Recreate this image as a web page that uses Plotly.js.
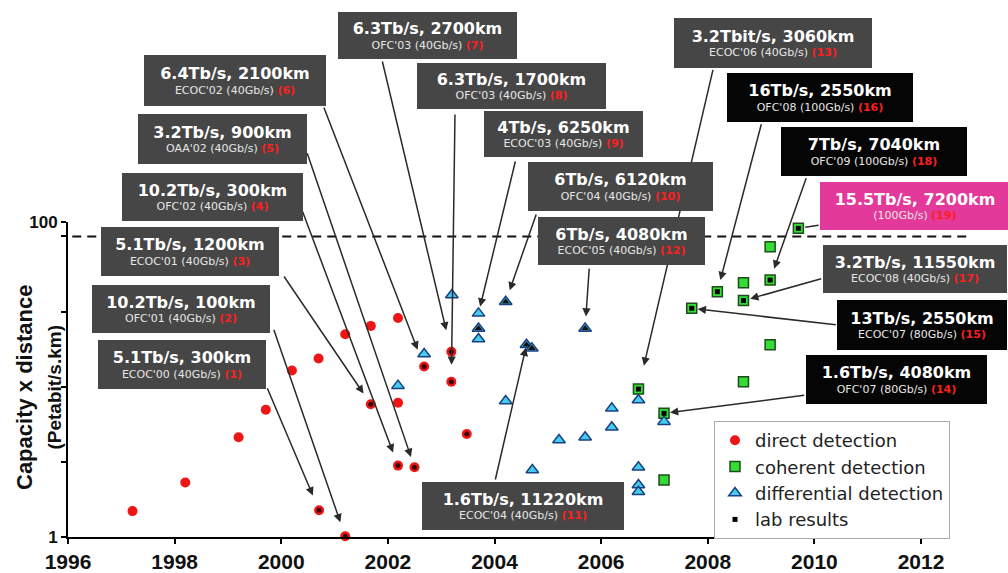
<!DOCTYPE html>
<html><head><meta charset="utf-8">
<script src="https://cdn.plot.ly/plotly-3.0.1.min.js"></script>
<style>html,body{margin:0;padding:0;background:#fff}#chart{width:1008px;height:573px}</style>
</head><body><div id="chart"></div>
<script>
// ---- data (year, capacity x distance in Petabit/s.km, lab result flag) ----
const directYear  = [1997.21,1998.20,1999.20,1999.71,2000.20,2000.70,2001.20,2001.68,2002.19,2001.68,2002.19,2002.68,2003.19,2003.19,2003.48,2002.19,2002.50,2000.71,2001.20];
const directValue = [1.46,2.22,4.30,6.43,11.4,13.6,19.4,21.9,24.6,6.96,7.12,12.1,15.0,9.68,4.51,2.84,2.77,1.48,1.01];
const directLab   = [0,0,0,0,0,0,0,0,0,1,0,1,1,1,1,1,1,1,1];

const coherentYear  = [2006.70,2007.70,2008.18,2008.67,2008.67,2009.17,2009.17,2009.70,2009.17,2008.67,2007.18,2007.18];
const coherentValue = [8.7,28.3,36.1,41.2,31.7,42.8,69.7,91.2,16.6,9.68,6.10,2.30];
const coherentLab   = [1,1,1,0,1,1,0,1,0,0,1,0];

const diffYear  = [2003.20,2003.70,2003.70,2003.70,2004.21,2002.68,2002.19,2004.60,2004.70,2004.21,2004.71,2005.21,2005.70,2005.70,2006.20,2006.20,2006.70,2006.70,2006.70,2006.70,2007.18];
const diffValue = [34.4,26.3,21.1,18.1,31.2,14.5,9.14,16.6,15.8,7.3,2.66,4.13,4.30,21.1,6.56,4.97,7.41,2.77,2.14,1.94,5.40];
const diffLab   = [0,0,1,0,1,0,0,1,1,0,0,0,0,1,0,0,0,0,0,0,0];

const seriesNames = ['direct detection','coherent detection','differential detection','lab results'];
const xTickYears = [1996,1998,2000,2002,2004,2006,2008,2010,2012];
const yTickValues = [1,3,9,27,81,100];
const yTickText = ['1','','','','','100'];
const referenceLine = 81;
const yTitle = ['Capacity x distance','(Petabit/s.km)'];

// record labels
const boxTitle = ['5.1Tb/s, 300km','10.2Tb/s, 100km','5.1Tb/s, 1200km','10.2Tb/s, 300km','3.2Tb/s, 900km','6.4Tb/s, 2100km',
  '6.3Tb/s, 2700km','6.3Tb/s, 1700km','4Tb/s, 6250km','6Tb/s, 6120km','6Tb/s, 4080km','1.6Tb/s, 11220km',
  '3.2Tbit/s, 3060km','16Tb/s, 2550km','7Tb/s, 7040km','15.5Tb/s, 7200km','3.2Tb/s, 11550km','13Tb/s, 2550km','1.6Tb/s, 4080km'];
const boxSub = ["ECOC'00 (40Gb/s)","OFC'01 (40Gb/s)","ECOC'01 (40Gb/s)","OFC'02 (40Gb/s)","OAA'02 (40Gb/s)","ECOC'02 (40Gb/s)",
  "OFC'03 (40Gb/s)","OFC'03 (40Gb/s)","ECOC'03 (40Gb/s)","OFC'04 (40Gb/s)","ECOC'05 (40Gb/s)","ECOC'04 (40Gb/s)",
  "ECOC'06 (40Gb/s)","OFC'08 (100Gb/s)","OFC'09 (100Gb/s)","(100Gb/s)","ECOC'08 (40Gb/s)","ECOC'07 (80Gb/s)","OFC'07 (80Gb/s)"];
const boxRef = [1,2,3,4,5,6,7,8,9,10,12,11,13,16,18,19,17,15,14];
const boxKind = ['g','g','g','g','g','g','g','g','g','g','g','g','g','k','k','p','g','k','k'];
// which point each label's arrow refers to: [series, index]
const boxTarget = [['d',17],['d',18],['d',9],['d',15],['d',16],['d',11],['d',12],['d',13],['f',1],['f',4],['f',13],['f',7],
  ['c',0],['c',2],['c',5],['c',7],['c',4],['c',1],['c',10]];

// ---- layout geometry (pixels) ----
const W=1008,H=573,L=68,R=87,T=222,B=36;
const pw=W-L-R, ph=H-T-B;
const boxRect = [[98,340,266,389],[92,285,270,333],[101,227,279,276],[122,173,303,221],[138,114,307,164],[144,55,326,106],
  [338,12,517,59],[417,63,606,109],[484,111,643,157],[528,162,713,211],[538,217,705,265],[422,482,624,530],
  [674,18,872,68],[727,73,913,122],[781,127,967,176],[820,182,1010,230],[823,245,1007,293],[837,300,1007,350],[806,355,987,404]];
const arrowTail = [[266.7,386.7],[273.3,328.3],[283,275],[302,210],[306.7,151.7],[323.3,106],
  [382,60],[455,113],[515.7,160],[536.7,213],[589.3,267],[495,481],
  [713.3,68.3],[761.7,122.7],[806.7,176.7],[820,225],[822.7,278.3],[837.3,325],[805.7,395]];
const arrowStandoff = [16,15,13,14,11,18,22,17,7,12,12,3,24,12,12,7,7,6,6];

const xPix = yr => L + (yr-1996)/16*pw;
const yPix = v => T + ph - Math.log10(v)/2*ph;
const series = {d:[directYear,directValue], c:[coherentYear,coherentValue], f:[diffYear,diffValue]};
const kindColor = {g:'#464646', k:'#050505', p:'#e2399a'};

const pick = (arr, flags) => arr.filter((_,i)=>flags[i]);

const traces = [
  {type:'scatter', mode:'markers', name:seriesNames[0], x:directYear, y:directValue, cliponaxis:false,
   marker:{symbol:'circle', size:10, color:'#ee1515', line:{width:0}}},
  {type:'scatter', mode:'markers', name:seriesNames[1], x:coherentYear, y:coherentValue, cliponaxis:false,
   marker:{symbol:'square', size:10, color:'#33dd33', line:{width:1.5, color:'#1d4d1d'}}},
  {type:'scatter', mode:'markers', name:seriesNames[2], x:diffYear, y:diffValue, cliponaxis:false,
   marker:{symbol:'triangle-up', size:11, color:'#44ccee', line:{width:1.5, color:'#1a4080'}}},
  {type:'scatter', mode:'markers', showlegend:false, x:pick(directYear,directLab), y:pick(directValue,directLab), cliponaxis:false,
   marker:{symbol:'circle', size:5, color:'#3a0000'}},
  {type:'scatter', mode:'markers', showlegend:false, x:pick(diffYear,diffLab), y:pick(diffValue,diffLab), cliponaxis:false,
   marker:{symbol:'triangle-up', size:7, color:'#111'}},
  {type:'scatter', mode:'markers', name:seriesNames[3], x:pick(coherentYear,coherentLab), y:pick(coherentValue,coherentLab), cliponaxis:false,
   marker:{symbol:'square', size:5, color:'#000'}}
];

const annotations = [];
// arrows first (so boxes sit on top)
boxTarget.forEach((t,i)=>{
  const s = series[t[0]];
  const yr = s[0][t[1]], v = s[1][t[1]];
  annotations.push({x:yr, y:Math.log10(v), xref:'x', yref:'y', text:'', showarrow:true,
    ax: arrowTail[i][0]-xPix(yr), ay: arrowTail[i][1]-yPix(v), axref:'pixel', ayref:'pixel',
    arrowhead: boxKind[i]==='p' ? 0 : 2, arrowsize:1.1, arrowwidth:1.5, arrowcolor:'#2a2a2a', standoff: arrowStandoff[i]});
});
boxTitle.forEach((t,i)=>{
  const r = boxRect[i];
  const cx=(r[0]+r[2])/2, cy=(r[1]+r[3])/2;
  annotations.push({xref:'paper', yref:'paper', x:(cx-L)/pw, y:(T+ph-cy)/ph, xanchor:'center', yanchor:'middle',
    width:r[2]-r[0], height:r[3]-r[1], bgcolor:kindColor[boxKind[i]], borderpad:0, borderwidth:0, showarrow:false,
    font:{family:'DejaVu Sans, sans-serif', size:11, color:'#e6e6e6'},
    text:'<b><span style="font-size:16px;color:#ffffff">'+t+'</span></b><br>'+boxSub[i]+' <b><span style="color:#ff1e1e">('+boxRef[i]+')</span></b>'});
});
// y axis title (two lines)
annotations.push({xref:'paper', yref:'paper', x:(38-L)/pw, y:(T+ph-388)/ph, xanchor:'center', yanchor:'middle',
  textangle:-90, showarrow:false, font:{family:'Liberation Sans, Arial, sans-serif', size:22, color:'#111', weight:'bold'},
  text:yTitle[0]+'<br><span style="font-size:19px">'+yTitle[1]+'</span>'});

const tickFont = {family:'Liberation Sans, Arial, sans-serif', weight:'bold', color:'#111'};
const layout = {
  width:W, height:H, autosize:false, margin:{l:L, r:R, t:T, b:B, pad:0},
  paper_bgcolor:'#fff', plot_bgcolor:'#fff', showlegend:true,
  xaxis:{range:[1996,2012], tickvals:xTickYears, ticktext:xTickYears.map(String), ticks:'outside', ticklen:5, tickwidth:2, tickcolor:'#000',
    showline:true, linecolor:'#000', linewidth:2, showgrid:false, zeroline:false, tickfont:Object.assign({size:21}, tickFont)},
  yaxis:{type:'log', range:[0,2], tickvals:yTickValues, ticktext:yTickText, ticks:'outside', ticklen:5, tickwidth:2, tickcolor:'#000',
    showline:true, linecolor:'#000', linewidth:2, showgrid:false, zeroline:false, tickfont:Object.assign({size:17}, tickFont)},
  shapes:[{type:'line', xref:'paper', yref:'paper', x0:0.005, x1:(967-L)/pw, y0:Math.log10(referenceLine)/2, y1:Math.log10(referenceLine)/2,
    line:{color:'#111', width:2, dash:'9px,6px'}, layer:'below'}],
  legend:{x:(714-L)/pw, y:(T+ph-421)/ph, xanchor:'left', yanchor:'top', bgcolor:'#fff', bordercolor:'#aaa', borderwidth:1,
    font:{family:'DejaVu Sans, sans-serif', size:18, color:'#222'}, itemwidth:30},
  annotations:annotations
};
Plotly.newPlot('chart', traces, layout, {displayModeBar:false, staticPlot:true});
</script></body></html>
